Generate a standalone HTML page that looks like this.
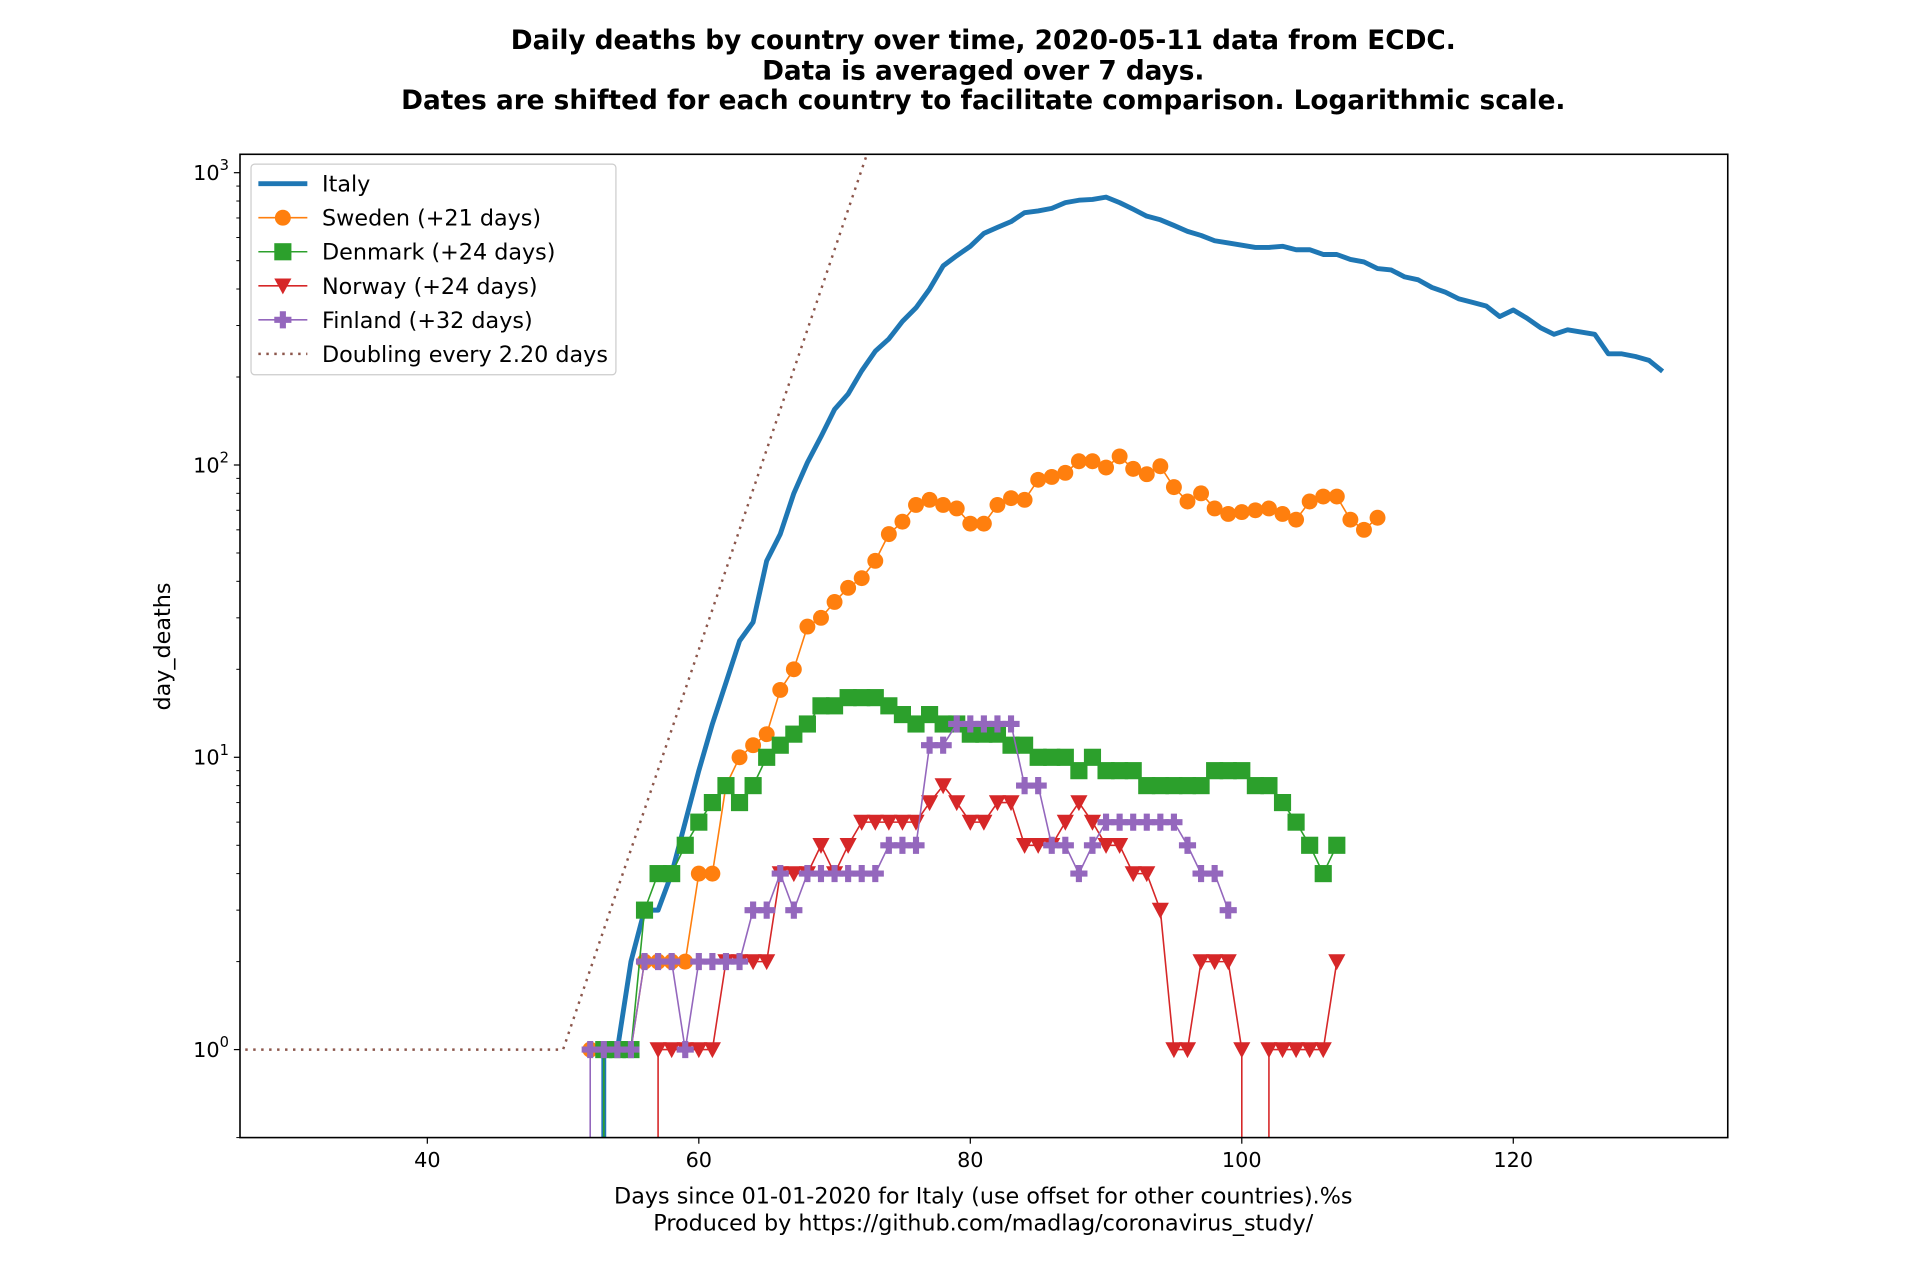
<!DOCTYPE html>
<html><head><meta charset="utf-8"><style>
html,body{margin:0;padding:0;background:#fff;width:1920px;height:1280px;overflow:hidden;}
svg{display:block;font-family:"DejaVu Sans","Liberation Sans",sans-serif;}
</style></head><body>
<svg id="chart" width="1920" height="1280" viewBox="0 0 1568 1045.3" preserveAspectRatio="none" xmlns="http://www.w3.org/2000/svg">
<defs><clipPath id="clip"><rect x="196" y="126" width="1215" height="803"/></clipPath></defs>
<text x="803" y="40" text-anchor="middle" font-weight="bold" font-size="21.5">Daily deaths by country over time, 2020-05-11 data from ECDC.</text>
<text x="803" y="65" text-anchor="middle" font-weight="bold" font-size="21.5">Data is averaged over 7 days.</text>
<text x="803" y="89" text-anchor="middle" font-weight="bold" font-size="21.5">Dates are shifted for each country to facilitate comparison. Logarithmic scale.</text>
<g id="ticks"></g>
<g id="series" clip-path="url(#clip)"></g>
<rect x="196" y="126" width="1215" height="803" fill="none" stroke="#000" stroke-width="1.3"/>
<text transform="translate(139,528) rotate(-90)" text-anchor="middle" font-size="18.2">day_deaths</text>
<text x="803" y="983" text-anchor="middle" font-size="18.2">Days since 01-01-2020 for Italy (use offset for other countries).%s</text>
<text x="803" y="1005" text-anchor="middle" font-size="18.2">Produced by https://github.com/madlag/coronavirus_study/</text>
<g id="legend"></g>
</svg>
<script>
const italyDays=[];for(let d=52;d<=131;d++)italyDays.push(d);
const italyVals=[0,1,1,2,3,3,4,6,9,13,18,25,29,47,58,80,102,125,155,175,210,245,270,310,345,400,480,520,560,620,650,680,730,740,755,790,805,810,825,790,750,710,690,660,630,610,585,575,565,555,555,560,545,545,525,525,505,495,470,465,440,430,405,390,370,360,350,322,339,318,295,280,290,285,280,240,240,235,228,209];
const swedenDays=[];for(let d=52;d<=110;d++)swedenDays.push(d);
const swedenVals=[1,1,1,1,2,2,2,2,4,4,8,10,11,12,17,20,28,30,34,38,41,47,58,64,73,76,73,71,63,63,73,77,76,89,91,94,103,103,98,107,97,93,99,84,75,80,71,68,69,70,71,68,65,75,78,78,65,60,66];
const denmarkDays=[];for(let d=52;d<=107;d++)denmarkDays.push(d);
const denmarkVals=[0,1,1,1,3,4,4,5,6,7,8,7,8,10,11,12,13,15,15,16,16,16,15,14,13,14,13,13,12,12,12,11,11,10,10,10,9,10,9,9,9,8,8,8,8,8,9,9,9,8,8,7,6,5,4,5];
const norwayDays=[];for(let d=56;d<=107;d++)norwayDays.push(d);
const norwayVals=[0,1,1,1,1,1,2,2,2,2,4,4,4,5,4,5,6,6,6,6,6,7,8,7,6,6,7,7,5,5,5,6,7,6,5,5,4,4,3,1,1,2,2,2,1,0,1,1,1,1,1,2];
const finlandDays=[];for(let d=51;d<=99;d++)finlandDays.push(d);
const finlandVals=[0,1,1,1,1,2,2,2,1,2,2,2,2,3,3,4,3,4,4,4,4,4,4,5,5,5,11,11,13,13,13,13,13,8,8,5,5,4,5,6,6,6,6,6,6,5,4,4,3];
const doublingDays=2.2, doublingStart=50;
const xTicks=[40,60,80,100,120];
const yTickExps=[0,1,2,3];

const NS="http://www.w3.org/2000/svg";
const X0=196,X1=1411,Y0=126,Y1=929,XMIN=26.2,XMAX=135.8,LMIN=Math.log10(0.5),LMAX=Math.log10(1156);
const xs=d=>X0+(d-XMIN)/(XMAX-XMIN)*(X1-X0);
const ys=v=>v<=0?Y1+100000:Y1-(Math.log10(v)-LMIN)/(LMAX-LMIN)*(Y1-Y0);
function mk(tag,attrs,parent){const e=document.createElementNS(NS,tag);for(const k in attrs)e.setAttribute(k,attrs[k]);parent.appendChild(e);return e;}
const T=document.getElementById('ticks'),S=document.getElementById('series'),L=document.getElementById('legend');
xTicks.forEach(t=>{const x=xs(t);
 const l=mk('line',{x1:x,x2:x,y1:Y1,y2:Y1+5,stroke:'#000','stroke-width':1},T);
 
 
 const tx=mk('text',{x:x,y:Y1+24,'text-anchor':'middle','font-size':17},T);tx.textContent=t;
 
 });
yTickExps.forEach(e=>{const y=ys(Math.pow(10,e));
 const l=mk('line',{x1:X0-5,x2:X0,y1:y,y2:y,stroke:'#000','stroke-width':1},T);
 
 
 const tx=mk('text',{x:X0-9,y:y+6,'text-anchor':'end','font-size':17},T);
 
 
 tx.textContent='10';const sp=mk('tspan',{dy:-8,'font-size':12},tx);sp.textContent=e;
 for(let m=2;m<=9;m++){const v=m*Math.pow(10,e);if(v<1156&&v>0.5){const yy=ys(v);
  const ml=mk('line',{x1:X0-3,x2:X0,y1:yy,y2:yy,stroke:'#000','stroke-width':0.8},T);
  
  }}
 if(e===0){const yy=ys(0.5);const ml=mk('line',{x1:X0-3,x2:X0,y1:yy,y2:yy,stroke:'#000','stroke-width':0.8},T);
  
  }
});
function marker(type,x,y,c,g){
 if(type==='o')return mk('circle',{cx:x,cy:y,r:6.5,fill:c},g);
 if(type==='s')return mk('rect',{x:x-7,y:y-7,width:14,height:14,fill:c},g);
 if(type==='v')return mk('polygon',{points:`${x-7},${y-6} ${x+7},${y-6} ${x},${y+7}`,fill:c},g);
 if(type==='P')return mk('path',{d:`M${x-2.5},${y-7}h5v4.5h4.5v5h-4.5v4.5h-5v-4.5h-4.5v-5h4.5z`,fill:c},g);
}
function series(name,days,vals,c,w,mtype,dash){
 const g=mk('g',{},S);
 
 
 const pts=days.map((d,i)=>xs(d).toFixed(2)+','+ys(vals[i]).toFixed(2)).join(' ');
 const attrs={points:pts,fill:'none',stroke:c,'stroke-width':w,'stroke-linejoin':'round'};
 if(dash)attrs['stroke-dasharray']=dash;
 mk('polyline',attrs,g);
 if(mtype)days.forEach((d,i)=>{if(vals[i]>0){const m=marker(mtype,xs(d),ys(vals[i]),c,g);
  
  }});
}
const dblDays=[],dblVals=[];
for(let d=26;d<=74;d++){dblDays.push(d);dblVals.push(d<=doublingStart?1:Math.pow(2,(d-doublingStart)/doublingDays));}
series('doubling-line',dblDays,dblVals,'#8c564b',2,null,'2,4.5');
series('italy-line',italyDays,italyVals,'#1f77b4',4,null);
series('sweden-series',swedenDays,swedenVals,'#ff7f0e',1.3,'o');
series('denmark-series',denmarkDays,denmarkVals,'#2ca02c',1.3,'s');
series('norway-series',norwayDays,norwayVals,'#d62728',1.3,'v');
series('finland-series',finlandDays,finlandVals,'#9467bd',1.3,'P');
const lb=mk('rect',{x:205,y:134,width:298,height:172,rx:3,fill:'#fff','fill-opacity':0.8,stroke:'#ccc','stroke-width':1},L);


const entries=[['Italy','#1f77b4',4,null,null],['Sweden (+21 days)','#ff7f0e',1.3,'o',null],['Denmark (+24 days)','#2ca02c',1.3,'s',null],['Norway (+24 days)','#d62728',1.3,'v',null],['Finland (+32 days)','#9467bd',1.3,'P',null],['Doubling every 2.20 days','#8c564b',2,null,'2,4.5']];
entries.forEach((e,i)=>{const y=150+i*27.8;const g=mk('g',{},L);
 
 
 const a={x1:211,x2:251,y1:y,y2:y,stroke:e[1],'stroke-width':e[2]};if(e[4])a['stroke-dasharray']=e[4];
 mk('line',a,g);if(e[3])marker(e[3],231,y,e[1],g);
 const t=mk('text',{x:263,y:y+6.5,'font-size':18.2},g);t.textContent=e[0];});
</script>
</body></html>
